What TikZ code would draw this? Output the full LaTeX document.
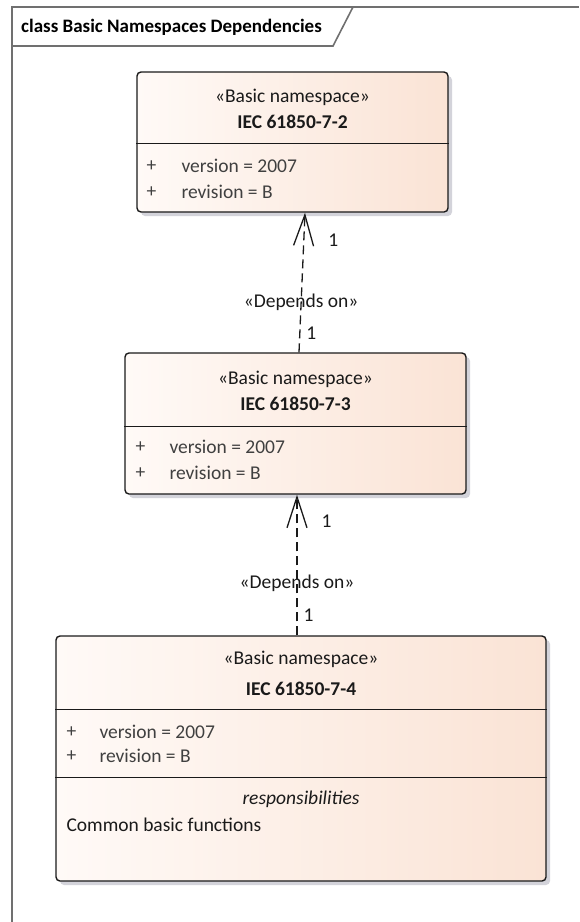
\documentclass[tikz,border=0pt]{standalone}
\usepackage{fontspec}
\setmainfont{Carlito}
\usepackage{xcolor}
\definecolor{FrameGrey}{HTML}{707070}
\definecolor{BoxEdge}{HTML}{1A1A1A}
\definecolor{PeachLight}{HTML}{FFFAF7}
\definecolor{PeachDark}{HTML}{FAE3D5}
\definecolor{ShadowGrey}{HTML}{D3D3DA}
\definecolor{AttrText}{HTML}{404040}
\usepackage{tikz}
\usetikzlibrary{arrows.meta, positioning, calc, shadows}
\tikzstyle{nsbox} = [rectangle, draw=BoxEdge, line width=1.4pt, rounded corners=4pt, left color=PeachLight, right color=PeachDark, drop shadow={shadow xshift=4pt, shadow yshift=-4pt, fill=ShadowGrey, opacity=1}, inner sep=0pt]
\tikzstyle{stereo} = [inner sep=0pt, font=\fontsize{19.5}{22}\selectfont, text=BoxEdge]
\tikzstyle{nsname} = [inner sep=0pt, font=\fontsize{19.5}{22}\selectfont\bfseries, text=BoxEdge]
\tikzstyle{attr} = [inner sep=0pt, anchor=west, font=\fontsize{19.5}{22}\selectfont, text=AttrText]
\tikzstyle{divider} = [line width=1.4pt, color=BoxEdge]
\tikzstyle{frame} = [line width=1.6pt, color=FrameGrey]
\tikzstyle{dep} = [line width=1.3pt, color=BoxEdge, dash pattern=on 9pt off 5pt, -{Straight Barb[length=31pt, width=20pt]}]
\tikzstyle{deplabel} = [inner sep=0pt, font=\fontsize{19.5}{22}\selectfont, text=BoxEdge]

\begin{document}
\begin{tikzpicture}[x=1pt, y=1pt]
        \useasboundingbox (0,0) rectangle (579,-922);
        % Diagram frame
        \draw [frame] (12,-922) -- (12,-7) -- (579,-7);
        \draw [frame] (12,-46) -- (333,-46) -- (353,-7);
        \node [anchor=west, inner sep=0pt, font=\fontsize{19}{22}\selectfont\bfseries] (frametitle) at (21,-27) {class Basic Namespaces Dependencies};

        % Namespaces
        \node [nsbox, minimum width=311pt, minimum height=140pt] (ns72) at (292.5,-142) {};
        \node [nsbox, minimum width=341pt, minimum height=141pt] (ns73) at (295.5,-423.5) {};
        \node [nsbox, minimum width=490pt, minimum height=245pt] (ns74) at (301,-758.5) {};

        \draw [divider] ($(ns72.north west)+(0,-72)$) -- ($(ns72.north east)+(0,-72)$);
        \draw [divider] ($(ns73.north west)+(0,-74)$) -- ($(ns73.north east)+(0,-74)$);
        \draw [divider] ($(ns74.north west)+(0,-74)$) -- ($(ns74.north east)+(0,-74)$);
        \draw [divider] ($(ns74.north west)+(0,-142)$) -- ($(ns74.north east)+(0,-142)$);

        \node [stereo] (st72) at ($(ns72.north)+(0,-26)$) {«Basic namespace»};
        \node [nsname] (nm72) at ($(ns72.north)+(0,-51)$) {IEC 61850-7-2};
        \node [attr] (pv72) at ($(ns72.north west)+(10,-95)$) {+};
        \node [attr] (v72) at ($(ns72.north west)+(45,-95)$) {version = 2007};
        \node [attr] (pr72) at ($(ns72.north west)+(10,-121)$) {+};
        \node [attr] (r72) at ($(ns72.north west)+(45,-121)$) {revision = B};

        \node [stereo] (st73) at ($(ns73.north)+(0,-27)$) {«Basic namespace»};
        \node [nsname] (nm73) at ($(ns73.north)+(0,-52)$) {IEC 61850-7-3};
        \node [attr] (pv73) at ($(ns73.north west)+(11,-95)$) {+};
        \node [attr] (v73) at ($(ns73.north west)+(45,-95)$) {version = 2007};
        \node [attr] (pr73) at ($(ns73.north west)+(11,-121)$) {+};
        \node [attr] (r73) at ($(ns73.north west)+(45,-121)$) {revision = B};

        \node [stereo] (st74) at ($(ns74.north)+(0,-24)$) {«Basic namespace»};
        \node [nsname] (nm74) at ($(ns74.north)+(0,-54)$) {IEC 61850-7-4};
        \node [attr] (pv74) at ($(ns74.north west)+(11,-97)$) {+};
        \node [attr] (v74) at ($(ns74.north west)+(44,-97)$) {version = 2007};
        \node [attr] (pr74) at ($(ns74.north west)+(11,-121)$) {+};
        \node [attr] (r74) at ($(ns74.north west)+(44,-121)$) {revision = B};
        \node [stereo, font=\fontsize{19.5}{22}\selectfont\itshape] (resp74) at ($(ns74.north)+(0,-164)$) {responsibilities};
        \node [attr, text=BoxEdge] (fn74) at ($(ns74.north west)+(11,-189)$) {Common basic functions};

        % Dependencies
        \draw [dep] ([xshift=3.5pt]ns73.north) -- node [deplabel, pos=0.36] {«Depends on»}
            node [deplabel, pos=0.14, right=6pt] {1}
            node [deplabel, pos=0.80, right=24pt] {1} ([xshift=12.5pt]ns72.south);
        \draw [dep] ([xshift=-4pt]ns74.north) -- node [deplabel, pos=0.37] {«Depends on»}
            node [deplabel, pos=0.14, right=6pt] {1}
            node [deplabel, pos=0.81, right=24pt] {1} ([xshift=1.5pt]ns73.south);
    \end{tikzpicture}
\end{document}
